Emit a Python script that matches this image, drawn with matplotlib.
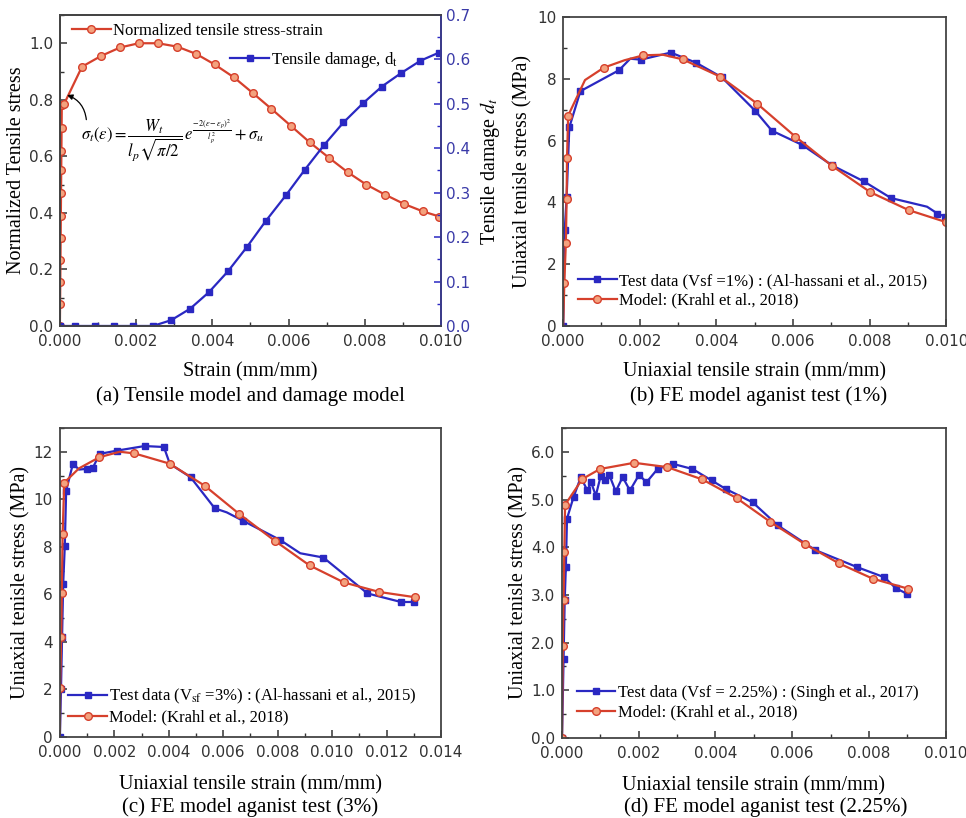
import matplotlib
matplotlib.use("Agg")
import matplotlib.pyplot as plt
from matplotlib.ticker import MultipleLocator, FormatStrFormatter

plt.rcParams['font.family'] = ['DejaVu Sans']
plt.rcParams['mathtext.fontset'] = 'stix'

RED = '#d6402c'
RED_FILL = '#f3a27e'
BLUE = '#2a28c2'
SERIF = 'Liberation Serif'

# (a) normalized tensile stress-strain and tensile damage
a_strain = [0.0, 0.000005, 0.00001, 0.000015, 0.00002, 0.000025, 0.00003, 0.000035,
            0.00004, 0.000045, 0.00005, 0.00011, 0.00058, 0.00108, 0.00158, 0.00207,
            0.00257, 0.00308, 0.00358, 0.00406, 0.00457, 0.00507, 0.00555, 0.00606,
            0.00656, 0.00706, 0.00755, 0.00804, 0.00854, 0.00904, 0.00953, 0.00996]
a_stress = [0.0, 0.077, 0.155, 0.233, 0.31, 0.39, 0.47, 0.55, 0.62, 0.70, 0.78, 0.785,
            0.917, 0.955, 0.985, 1.0, 1.0, 0.988, 0.962, 0.925, 0.879, 0.823, 0.768,
            0.708, 0.649, 0.595, 0.544, 0.50, 0.464, 0.431, 0.405, 0.387]
a_dmg_strain = [0.0, 0.0004, 0.00093, 0.00143, 0.00193, 0.00244, 0.00292, 0.00342,
                0.00391, 0.00441, 0.00491, 0.0054, 0.00593, 0.00643, 0.00693, 0.00744,
                0.00795, 0.00845, 0.00895, 0.00946, 0.00994]
a_damage = [0.0, 0.0, 0.0, 0.0, 0.0, 0.0, 0.013, 0.039, 0.076, 0.123, 0.178, 0.236,
            0.294, 0.352, 0.407, 0.458, 0.501, 0.539, 0.569, 0.597, 0.615]

# (b) Vsf = 1 %
b_test_strain = [0.0, 0.00002, 0.00004, 0.00009, 0.00016, 0.00045, 0.00146, 0.00175,
                 0.00203, 0.00281, 0.00347, 0.00414, 0.00501, 0.00545, 0.00624, 0.00702,
                 0.00785, 0.00856, 0.0095, 0.00977, 0.00997]
b_test_stress = [0.0, 1.4, 3.1, 4.16, 6.43, 7.6, 8.28, 8.65, 8.62, 8.85, 8.52, 8.05,
                 6.97, 6.32, 5.86, 5.2, 4.68, 4.14, 3.86, 3.64, 3.54]
b_test_marks = [0, 2, 3, 4, 5, 6, 8, 9, 10, 11, 12, 13, 14, 15, 16, 17, 19, 20]
b_model_strain = [0.0, 0.00003, 0.00007, 0.00009, 0.0001, 0.00013, 0.00057, 0.00106,
                  0.0016, 0.00209, 0.0026, 0.00312, 0.0041, 0.00506, 0.00606, 0.00702,
                  0.00802, 0.00902, 0.01]
b_model_stress = [0.0, 1.4, 2.7, 4.1, 5.43, 6.81, 7.96, 8.36, 8.6, 8.76, 8.78, 8.63,
                  8.07, 7.2, 6.13, 5.18, 4.33, 3.75, 3.36]
b_model_marks = [1, 2, 3, 4, 5, 7, 9, 11, 12, 13, 14, 15, 16, 17, 18]

# (c) Vsf = 3 %
c_test_strain = [0.0, 0.00004, 0.00008, 0.00012, 0.00018, 0.00023, 0.00048, 0.0007,
                 0.00098, 0.0012, 0.00146, 0.00211, 0.00311, 0.00382, 0.00404, 0.0048,
                 0.00569, 0.00613, 0.00672, 0.00809, 0.00883, 0.00968, 0.0113, 0.01253,
                 0.013]
c_test_stress = [0.0, 2.0, 4.2, 6.42, 8.04, 10.36, 11.5, 11.25, 11.28, 11.3, 11.91,
                 12.05, 12.24, 12.2, 11.49, 10.93, 9.62, 9.45, 9.1, 8.29, 7.73, 7.55,
                 6.04, 5.68, 5.68]
c_test_marks = [0, 1, 2, 3, 4, 5, 6, 8, 9, 10, 11, 12, 13, 15, 16, 18, 19, 21, 22, 23, 24]
c_model_strain = [0.0, 0.00001, 0.00005, 0.00007, 0.0001, 0.00016, 0.0007, 0.00145,
                  0.0022, 0.00274, 0.00403, 0.00532, 0.00658, 0.0079, 0.00917, 0.01044,
                  0.01174, 0.01305]
c_model_stress = [0.0, 2.07, 4.22, 6.04, 8.55, 10.7, 11.3, 11.77, 12.0, 11.93, 11.5,
                  10.57, 9.39, 8.25, 7.22, 6.5, 6.1, 5.88]
c_model_marks = [1, 2, 3, 4, 5, 7, 9, 10, 11, 12, 13, 14, 15, 16, 17]

# (d) Vsf = 2.25 %
d_test_strain = [0.0, 0.00004, 0.00007, 0.0001, 0.00013, 0.0003, 0.00049, 0.00066,
                 0.00076, 0.00088, 0.00101, 0.00112, 0.00123, 0.0014, 0.00158, 0.00177,
                 0.00201, 0.0022, 0.00249, 0.00288, 0.0034, 0.0039, 0.00427, 0.00497,
                 0.00562, 0.0066, 0.0077, 0.0084, 0.0087, 0.009]
d_test_stress = [0.0, 1.65, 2.9, 3.58, 4.6, 5.05, 5.47, 5.19, 5.36, 5.08, 5.5, 5.4,
                 5.52, 5.17, 5.47, 5.19, 5.52, 5.36, 5.64, 5.75, 5.64, 5.4, 5.22, 4.94,
                 4.46, 3.94, 3.58, 3.37, 3.14, 3.02]
d_model_strain = [0.0, 0.00002, 0.00004, 0.00006, 0.00008, 0.00053, 0.00099, 0.00188,
                  0.00274, 0.00366, 0.00455, 0.00543, 0.00634, 0.00722, 0.0081, 0.00902]
d_model_stress = [0.0, 1.92, 2.9, 3.9, 4.89, 5.43, 5.64, 5.77, 5.68, 5.42, 5.03, 4.53,
                  4.06, 3.66, 3.34, 3.13]

test_labels = ['Test data (Vsf =1%) : (Al-hassani et al., 2015)',
               r'Test data (V$_{\mathrm{sf}}$ =3%) : (Al-hassani et al., 2015)',
               'Test data (Vsf = 2.25%) : (Singh et al., 2017)']
model_label = 'Model: (Krahl et al., 2018)'
captions = ['(a) Tensile model and damage model',
            '(b) FE model aganist test (1%)',
            '(c) FE model aganist test (3%)',
            '(d) FE model aganist test (2.25%)']

red_style = dict(color=RED, lw=1.6, marker='o', ms=5.5, mfc=RED_FILL, mec=RED, mew=1.0)
blue_style = dict(color=BLUE, lw=1.6, marker='s', ms=5, mfc=BLUE, mec=BLUE)


def style_axes(ax, xmaj, ymaj):
    ax.xaxis.set_major_locator(MultipleLocator(xmaj))
    ax.xaxis.set_minor_locator(MultipleLocator(xmaj / 2))
    ax.yaxis.set_major_locator(MultipleLocator(ymaj))
    ax.yaxis.set_minor_locator(MultipleLocator(ymaj / 2))
    ax.tick_params(which='both', direction='in', top=False, right=False,
                   labelsize=11, colors='#333333')
    ax.tick_params(which='major', length=5, width=1.1)
    ax.tick_params(axis='x', pad=5.5)
    ax.tick_params(axis='y', pad=5)
    ax.tick_params(which='minor', length=3, width=1.0)
    ax.xaxis.set_major_formatter(FormatStrFormatter('%.3f'))
    for sp in ax.spines.values():
        sp.set_linewidth(1.3)
        sp.set_color('#444444')


def stress_legend(ax, anchor):
    return ax.legend(loc='lower left', bbox_to_anchor=anchor, frameon=False,
                     prop={'family': SERIF, 'size': 12}, handlelength=2.3,
                     handletextpad=0.15, labelspacing=0.2, borderaxespad=0)


fig = plt.figure(figsize=(9.66, 8.18), dpi=100)

# ---- (a)
ax = fig.add_axes([0.062, 0.6015, 0.3945, 0.3802])
ax.plot(a_strain, a_stress, label='Normalized tensile stress-strain', **red_style)
ax.set_xlim(0, 0.01)
ax.set_ylim(0, 1.1)
style_axes(ax, 0.002, 0.2)
ax.yaxis.set_major_formatter(FormatStrFormatter('%.1f'))
ax.set_xlabel('Strain (mm/mm)', family=SERIF, fontsize=14.5, labelpad=10)
ax.set_ylabel('Normalized Tensile stress', family=SERIF, fontsize=14.5, labelpad=2)
ax.legend(loc='upper left', bbox_to_anchor=(0.015, 0.995), frameon=False,
          prop={'family': SERIF, 'size': 12}, handlelength=2.3, handletextpad=0.15,
          borderaxespad=0)
ax.annotate('', xy=(0.00012, 0.82), xytext=(0.0007, 0.72),
            arrowprops=dict(arrowstyle='-|>', color='black', lw=0.9,
                            mutation_scale=8, connectionstyle='arc3,rad=0.35'))
ax.text(0.00056, 0.655,
        r'$\sigma_t(\varepsilon)=\dfrac{W_t}{l_p\sqrt{\pi/2}}\,e^{\frac{-2(\varepsilon-\varepsilon_p)^2}{l_p^2}}+\sigma_u$',
        fontsize=12, ha='left', va='center')

ax2 = ax.twinx()
ax2.plot(a_dmg_strain, a_damage, label=r'Tensile damage, d$_{\mathrm{t}}$', **blue_style)
ax2.set_ylim(0, 0.7)
ax2.yaxis.set_major_locator(MultipleLocator(0.1))
ax2.yaxis.set_minor_locator(MultipleLocator(0.05))
ax2.tick_params(which='both', direction='in', labelsize=11, colors=BLUE, left=False)
ax2.tick_params(which='major', length=5, width=1.1)
ax2.tick_params(which='minor', length=3, width=1.0)
ax2.yaxis.set_major_formatter(FormatStrFormatter('%.1f'))
for lab in ax2.get_yticklabels():
    lab.set_color('#3a3aa8')
for sp in ax2.spines.values():
    sp.set_linewidth(1.3)
    sp.set_color('#444444')
ax2.spines['right'].set_color('#3a3a90')
ax2.set_ylabel(r'Tensile damage $d_t$', family=SERIF, fontsize=14.5, labelpad=6)
ax2.legend(loc='upper left', bbox_to_anchor=(0.43, 0.91), frameon=False,
           prop={'family': SERIF, 'size': 12}, handlelength=2.3, handletextpad=0.15,
           borderaxespad=0)

# ---- (b)
ax = fig.add_axes([0.583, 0.6015, 0.3965, 0.3777])
ax.plot(b_test_strain, b_test_stress, label=test_labels[0], markevery=b_test_marks,
        **blue_style)
ax.plot(b_model_strain, b_model_stress, label=model_label, markevery=b_model_marks,
        **red_style)
ax.set_xlim(0, 0.01)
ax.set_ylim(0, 10)
style_axes(ax, 0.002, 2)
ax.set_xlabel('Uniaxial tensile strain (mm/mm)', family=SERIF, fontsize=14.5, labelpad=10)
ax.set_ylabel('Uniaxial tenisle stress (MPa)', family=SERIF, fontsize=14.5, labelpad=3)
stress_legend(ax, (0.022, 0.035))

# ---- (c)
ax = fig.add_axes([0.062, 0.099, 0.3945, 0.3778])
ax.plot(c_test_strain, c_test_stress, label=test_labels[1], markevery=c_test_marks,
        **blue_style)
ax.plot(c_model_strain, c_model_stress, label=model_label, markevery=c_model_marks,
        **red_style)
ax.set_xlim(0, 0.014)
ax.set_ylim(0, 13)
style_axes(ax, 0.002, 2)
ax.set_xlabel('Uniaxial tensile strain (mm/mm)', family=SERIF, fontsize=14.5, labelpad=11)
ax.set_ylabel('Uniaxial tenisle stress (MPa)', family=SERIF, fontsize=14.5, labelpad=2)
stress_legend(ax, (0.005, 0.015))

# ---- (d)
ax = fig.add_axes([0.5818, 0.0978, 0.3972, 0.379])
ax.plot(d_test_strain, d_test_stress, label=test_labels[2], **blue_style)
ax.plot(d_model_strain, d_model_stress, label=model_label, **red_style)
ax.set_xlim(0, 0.01)
ax.set_ylim(0, 6.5)
style_axes(ax, 0.002, 1.0)
ax.yaxis.set_major_formatter(FormatStrFormatter('%.1f'))
ax.set_xlabel('Uniaxial tensile strain (mm/mm)', family=SERIF, fontsize=14.5, labelpad=11)
ax.set_ylabel('Uniaxial tenisle stress (MPa)', family=SERIF, fontsize=14.5, labelpad=2)
stress_legend(ax, (0.022, 0.035))

cap_pos = [(0.259, 0.516), (0.785, 0.516), (0.259, 0.0135), (0.793, 0.0135)]
for text, (x, y) in zip(captions, cap_pos):
    fig.text(x, y, text, family=SERIF, fontsize=15, ha='center', va='center')

fig.savefig('out.png', dpi=100)
